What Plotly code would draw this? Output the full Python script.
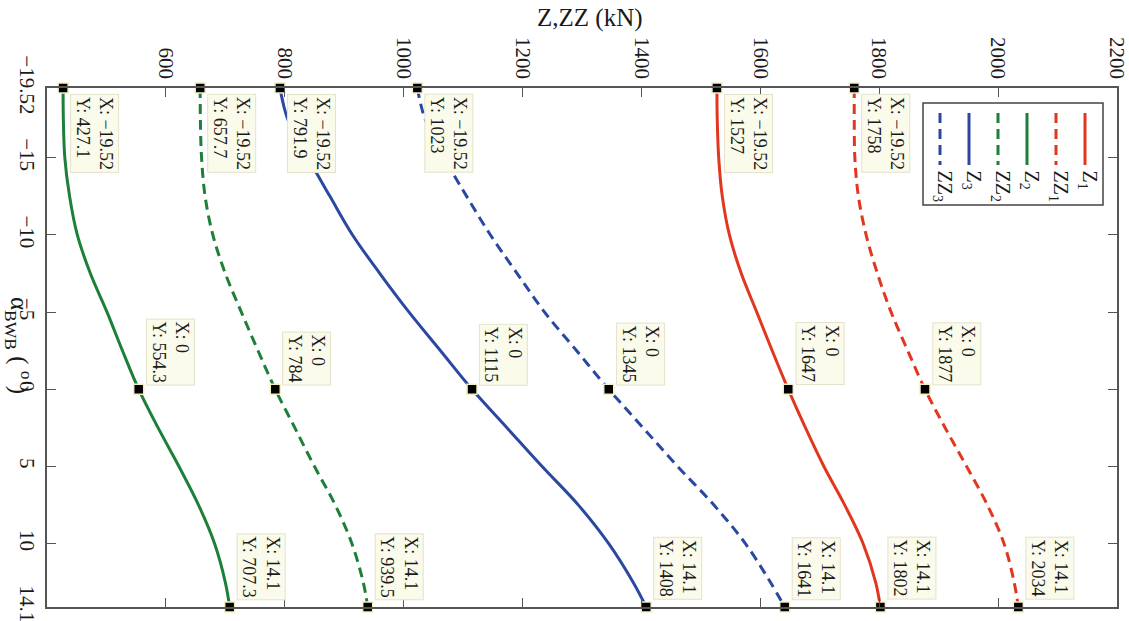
import plotly.graph_objects as go

# ---- data ----
alpha = [-19.52, -17.5, -15, -12.5, -10, -7.5, -5, -2.5, 0, 2.5, 5, 7.5, 10, 12.5, 14.1]
Z1  = [1527, 1527.5, 1530, 1536, 1548, 1568, 1594, 1620, 1647, 1676, 1707, 1742, 1773, 1794, 1802]
ZZ1 = [1758, 1758, 1759, 1765, 1778, 1797, 1820, 1848, 1877, 1911, 1947, 1982, 2010, 2027, 2034]
Z2  = [427.1, 427.5, 430, 438, 451, 473, 501, 527, 554.3, 587, 622, 655, 682, 700, 707.3]
ZZ2 = [657.7, 658, 660, 666, 679, 700, 727, 755, 784, 817, 850, 885, 913, 932, 939.5]
Z3  = [791.9, 805, 839, 876, 914, 960, 1009, 1062, 1115, 1174, 1233, 1294, 1345, 1386, 1408]
ZZ3 = [1023, 1036, 1068, 1106, 1146, 1191, 1237, 1291, 1345, 1403, 1461, 1522, 1575, 1617, 1641]
tip_idx = [0, 8, 14]          # data tips at alpha = -19.52, 0, 14.1

x_ticks = [600, 800, 1000, 1200, 1400, 1600, 1800, 2000, 2200]
y_ticks = [-19.52, -15, -10, -5, 0, 5, 10, 14.1]
y_ticktext = ["\u221219.52", "\u221215", "\u221210", "\u22125", "0", "5", "10", "14.1"]

RED, GREEN, BLUE = "#e2371f", "#1d7f38", "#2a48a2"
series = [
    ("Z<sub>1</sub>", Z1, RED, "solid"),
    ("ZZ<sub>1</sub>", ZZ1, RED, "dash"),
    ("Z<sub>2</sub>", Z2, GREEN, "solid"),
    ("ZZ<sub>2</sub>", ZZ2, GREEN, "dash"),
    ("Z<sub>3</sub>", Z3, BLUE, "solid"),
    ("ZZ<sub>3</sub>", ZZ3, BLUE, "dash"),
]
DASH = "10px,6px"
FONT = "Liberation Serif"

W, H = 1129, 621
L, R, T, B = 47, 12, 88, 14
PW, PH = W - L - R, H - T - B


def px(xp):
    return (xp - L) / PW


def py(yp):
    return (H - B - yp) / PH


fig = go.Figure()
for name, vals, col, dash in series:
    fig.add_trace(go.Scatter(
        x=vals, y=alpha, mode="lines", name=name, showlegend=False,
        line=dict(color=col, width=3, dash=DASH if dash == "dash" else "solid",
                  shape="spline", smoothing=1.0),
    ))


def fmt(v):
    return ("%.4g" % v).replace("-", "\u2212")


annotations = []
for name, vals, col, dash in series:
    xs = [vals[i] for i in tip_idx]
    ys = [alpha[i] for i in tip_idx]
    fig.add_trace(go.Scatter(
        x=xs, y=ys, mode="markers", showlegend=False, cliponaxis=False,
        marker=dict(symbol="square", size=10, color="black",
                    line=dict(color="#f3eec4", width=1.5)),
    ))
    for k, (xv, yv) in enumerate(zip(xs, ys)):
        top = (k == 0)
        annotations.append(dict(
            x=xv, y=yv, xref="x", yref="y", showarrow=False,
            text="X: %s<br>Y: %s" % (fmt(yv), fmt(xv)),
            textangle=90, align="left",
            font=dict(family=FONT, size=18, color="#1a1a1a"),
            bgcolor="#fbfbeb", bordercolor="#e4e2c8", borderwidth=1, borderpad=2,
            xanchor="left", xshift=7,
            yanchor="top" if top else "bottom",
            yshift=-6 if top else (4 if k == 1 else 7),
        ))

# axis titles
annotations.append(dict(
    x=px(590), y=py(18), xref="paper", yref="paper", showarrow=False,
    text="Z,ZZ (kN)", font=dict(family=FONT, size=25, color="#1a1a1a"),
    xanchor="center", yanchor="middle"))
annotations.append(dict(
    x=px(19), y=py(345), xref="paper", yref="paper", showarrow=False,
    text="\u03b1<sub>BWB</sub> ( <sup>o</sup> )", textangle=90,
    font=dict(family=FONT, size=25, color="#1a1a1a"),
    xanchor="center", yanchor="middle"))

# hand-made rotated legend
shapes = [dict(type="rect", xref="paper", yref="paper",
               x0=px(923), x1=px(1103), y0=py(205), y1=py(103),
               line=dict(color="#444444", width=1.5), fillcolor="white", layer="above")]
leg_x = [1085, 1056, 1027, 998, 969, 940]
for (name, vals, col, dash), lx in zip(series, leg_x):
    shapes.append(dict(type="line", xref="paper", yref="paper",
                       x0=px(lx), x1=px(lx), y0=py(113), y1=py(165),
                       line=dict(color=col, width=3,
                                 dash=DASH if dash == "dash" else "solid"),
                       layer="above"))
    annotations.append(dict(
        x=px(lx + 3), y=py(168), xref="paper", yref="paper", showarrow=False,
        text=name, textangle=90, font=dict(family=FONT, size=20, color="#1a1a1a"),
        xanchor="center", yanchor="top"))

axis_common = dict(
    showline=True, linecolor="#555555", linewidth=1.5, mirror="ticks",
    ticks="inside", ticklen=9, tickwidth=1.2, tickcolor="#555555",
    showgrid=False, zeroline=False, tickangle=90, automargin=False,
    ticklabeloverflow="allow",
    tickfont=dict(family=FONT, size=21, color="#1a1a1a"),
)
fig.update_layout(
    width=W, height=H,
    margin=dict(l=L, r=R, t=T, b=B),
    paper_bgcolor="white", plot_bgcolor="white",
    xaxis=dict(range=[400, 2200 + 1e-6], side="top", tickvals=x_ticks,
               ticktext=[str(v) for v in x_ticks], **axis_common),
    yaxis=dict(range=[14.1 + 1e-6, -19.52 - 1e-6], tickvals=y_ticks,
               ticktext=y_ticktext, **axis_common),
    annotations=annotations, shapes=shapes,
)

fig.write_html(
    "out.html",
    config={"displayModeBar": False},
    post_script="document.body.style.margin='0';document.body.style.overflow='hidden';",
)
